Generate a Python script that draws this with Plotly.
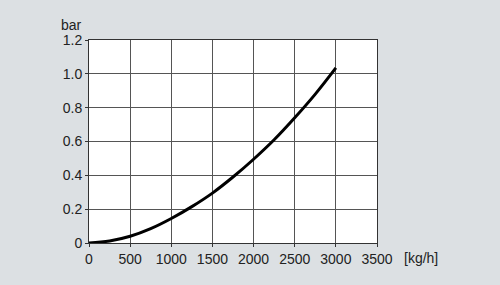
import plotly.graph_objects as go

flow_kgh = [0, 250, 500, 750, 1000, 1250, 1500, 1750, 2000, 2250, 2500, 2750, 3000]
pressure_bar = [0, 0.012, 0.04, 0.085, 0.145, 0.215, 0.295, 0.39, 0.495, 0.61, 0.74, 0.88, 1.035]
x_ticks = [0, 500, 1000, 1500, 2000, 2500, 3000, 3500]
y_ticks = [0, 0.2, 0.4, 0.6, 0.8, 1.0, 1.2]
y_tick_labels = ["0", "0.2", "0.4", "0.6", "0.8", "1.0", "1.2"]

fig = go.Figure()
fig.add_trace(go.Scatter(x=flow_kgh, y=pressure_bar, mode="lines",
                         line=dict(color="black", width=3, shape="spline"),
                         showlegend=False, hoverinfo="skip"))

font = dict(family="Liberation Sans, Arial, sans-serif", size=14, color="#222")
fig.update_layout(
    width=500, height=285,
    margin=dict(l=89, r=123, t=40, b=42),
    paper_bgcolor="#dce0e3", plot_bgcolor="white",
    font=font,
    xaxis=dict(range=[0, 3500], tickvals=x_ticks, showgrid=True, gridcolor="#555", gridwidth=1,
               showline=True, linecolor="#333", linewidth=1, mirror=True, zeroline=False,
               ticks="outside", ticklen=3, tickcolor="#333", fixedrange=True),
    yaxis=dict(range=[0, 1.2], tickvals=y_ticks, ticktext=y_tick_labels, showgrid=True,
               gridcolor="#555", gridwidth=1, showline=True, linecolor="#333", linewidth=1,
               mirror=True, zeroline=False, ticks="outside", ticklen=3, tickcolor="#333",
               fixedrange=True),
    annotations=[
        dict(text="bar", xref="paper", yref="paper", x=0, y=1, xanchor="right", yanchor="bottom",
             xshift=-5, yshift=5, showarrow=False, font=font),
        dict(text="[kg/h]", xref="paper", yref="paper", x=1, y=0, xanchor="left", yanchor="top",
             xshift=25, yshift=-5, showarrow=False, font=font),
    ],
)
fig.write_html("out.html")
